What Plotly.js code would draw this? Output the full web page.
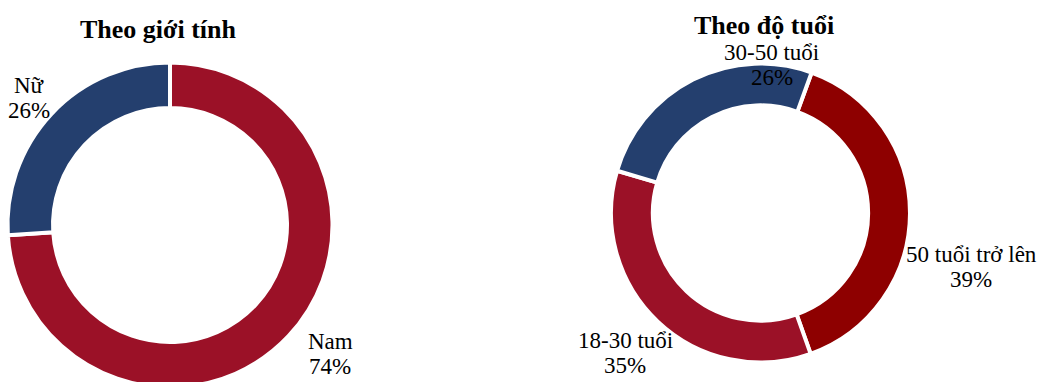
<!DOCTYPE html>
<html>
<head>
<meta charset="utf-8">
<script src="https://cdn.plot.ly/plotly-3.0.1.min.js"></script>
<style>
html, body { margin: 0; padding: 0; overflow: hidden; background: #fff; }
#chart { width: 1041px; height: 400px; }
</style>
</head>
<body>
<div id="chart"></div>
<script>
// ---- data ----
var genderLabels = ["Nam", "Nữ"];
var genderValues = [74, 26];
var ageLabels = ["50 tuổi trở lên", "18-30 tuổi", "30-50 tuổi"];
var ageValues = [39, 35, 26];
var titles = ["Theo giới tính", "Theo độ tuổi"];

// ---- styles ----
var genderColors = ["#9B1127", "#243F6E"];
var ageColors = ["#8E0000", "#9B1127", "#243F6E"];
var W = 1041, H = 400;
var FONT = "Times New Roman";

function pieDomain(cx, cy, r) {
  return {
    x: [(cx - r) / W, (cx + r) / W],
    y: [1 - (cy + r) / H, 1 - (cy - r) / H]
  };
}

var traces = [
  {
    type: "pie", labels: genderLabels, values: genderValues,
    sort: false, direction: "clockwise", rotation: 0, hole: 0.72,
    marker: { colors: genderColors, line: { color: "#ffffff", width: 4 } },
    textinfo: "none", hoverinfo: "label+percent", showlegend: false,
    domain: pieDomain(170, 225, 162.5)
  },
  {
    type: "pie", labels: ageLabels, values: ageValues,
    sort: false, direction: "clockwise", rotation: 20, hole: 0.72,
    marker: { colors: ageColors, line: { color: "#ffffff", width: 4 } },
    textinfo: "none", hoverinfo: "label+percent", showlegend: false,
    domain: pieDomain(760.5, 213, 149.5)
  }
];

function pct(values, i) {
  var t = values.reduce(function (a, b) { return a + b; }, 0);
  return Math.round(values[i] / t * 100) + "%";
}

// label anchor positions in pixels (layout only): [x, y of name line]
var genderLabelPos = [[330, 341], [29, 85]];
var ageLabelPos = [[971, 254], [625, 340], [772, 52]];
var LINE_GAP = 25;

var annotations = [];
function addAnn(text, px, py, size, bold) {
  annotations.push({
    xref: "paper", yref: "paper", x: px / W, y: 1 - py / H,
    xanchor: "center", yanchor: "middle", showarrow: false,
    text: bold ? "<b>" + text + "</b>" : text,
    font: { family: FONT, size: size, color: "#000000" },
    align: "center"
  });
}
addAnn(titles[0], 158.5, 30, 26, true);
addAnn(titles[1], 764, 26, 26, true);
genderLabels.forEach(function (l, i) {
  addAnn(l, genderLabelPos[i][0], genderLabelPos[i][1], 23, false);
  addAnn(pct(genderValues, i), genderLabelPos[i][0], genderLabelPos[i][1] + LINE_GAP, 23, false);
});
ageLabels.forEach(function (l, i) {
  addAnn(l, ageLabelPos[i][0], ageLabelPos[i][1], 23, false);
  addAnn(pct(ageValues, i), ageLabelPos[i][0], ageLabelPos[i][1] + LINE_GAP, 23, false);
});

var layout = {
  width: W, height: H,
  margin: { l: 0, r: 0, t: 0, b: 0, pad: 0 },
  paper_bgcolor: "#ffffff", plot_bgcolor: "#ffffff",
  font: { family: FONT },
  showlegend: false,
  annotations: annotations
};

Plotly.newPlot("chart", traces, layout, { displayModeBar: false, staticPlot: true });
</script>
</body>
</html>
